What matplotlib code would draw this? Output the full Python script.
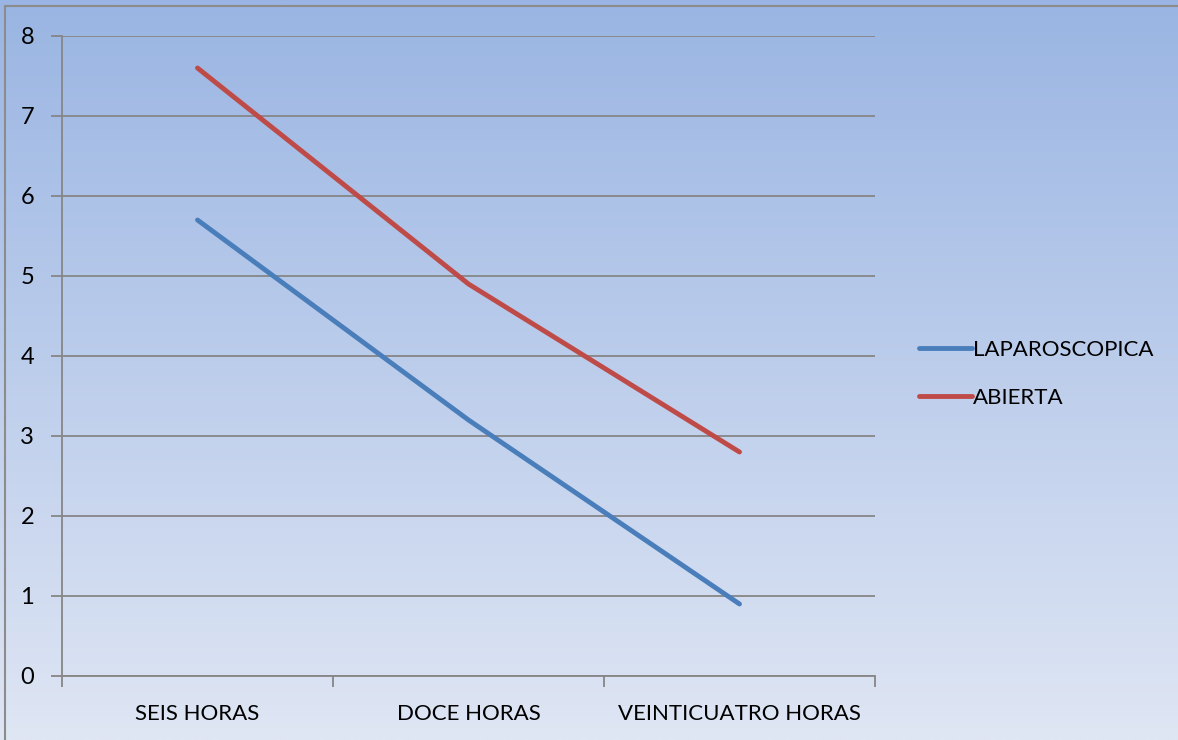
import numpy as np
import matplotlib.pyplot as plt
from matplotlib.colors import LinearSegmentedColormap
from matplotlib.patches import Rectangle

categories = ["SEIS HORAS", "DOCE HORAS", "VEINTICUATRO HORAS"]
laparoscopica = [5.7, 3.2, 0.9]
abierta = [7.6, 4.9, 2.8]
yticks = [0, 1, 2, 3, 4, 5, 6, 7, 8]

plt.rcParams["font.family"] = ["Lato", "DejaVu Sans"]

W, H = 1178, 740
fig = plt.figure(figsize=(W / 100, H / 100), dpi=100)

# background gradient, blue at top fading to pale
bg = fig.add_axes([0, 0, 1, 1], zorder=-10)
grad = LinearSegmentedColormap.from_list("bg", ["#dfe6f4", "#9ab5e3"])
bg.imshow(np.linspace(0, 1, 256).reshape(-1, 1), aspect="auto", cmap=grad,
          origin="lower", extent=[0, 1, 0, 1])
bg.add_patch(Rectangle((5 / W, -0.1), 1.2, 1.1 - 6 / H, fill=False,
                       edgecolor="#8c8c8c", linewidth=1.5))
bg.set_xlim(0, 1)
bg.set_ylim(0, 1)
bg.axis("off")

ax = fig.add_axes([62 / W, 64 / H, 813 / W, 640 / H])
ax.patch.set_alpha(0)

x = np.arange(len(categories))
ax.plot(x, laparoscopica, color="#4a7ebb", linewidth=3.5, label="LAPAROSCOPICA",
        solid_capstyle="round")
ax.plot(x, abierta, color="#be4b48", linewidth=3.5, label="ABIERTA",
        solid_capstyle="round")

ax.set_xlim(-0.5, len(categories) - 0.5)
ax.set_ylim(0, 8)
ax.set_yticks(yticks)
ax.yaxis.grid(True, color="#868686", linewidth=1.3)
ax.set_axisbelow(True)

ax.set_xticks(x)
ax.set_xticklabels(categories)
ax.set_xticks(np.arange(len(categories) + 1) - 0.5, minor=True)
ax.tick_params(axis="x", which="major", length=0, pad=20, labelsize=16)
ax.tick_params(axis="x", which="minor", length=8, width=1.3, color="#868686",
               direction="out")
ax.tick_params(axis="y", length=8, width=1.3, color="#868686", pad=12,
               labelsize=17)

for side in ["top", "right"]:
    ax.spines[side].set_visible(False)
for side in ["left", "bottom"]:
    ax.spines[side].set_color("#868686")
    ax.spines[side].set_linewidth(1.3)

fig.legend(loc="center left", bbox_to_anchor=(910 / W, 1 - 374 / H),
           frameon=False, fontsize=16, handlelength=2.4, handletextpad=0.05,
           labelspacing=1.25, borderaxespad=0)

fig.savefig("out.png", dpi=100)
